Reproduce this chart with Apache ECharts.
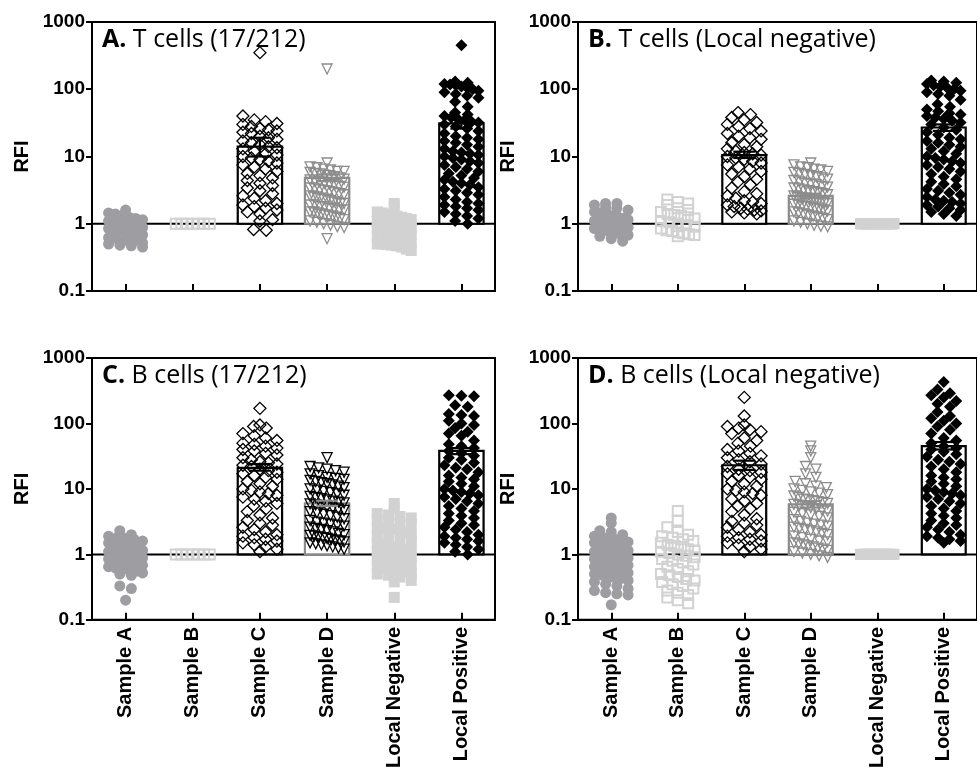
<!DOCTYPE html>
<html><head><meta charset="utf-8">
<script src="https://cdn.jsdelivr.net/npm/echarts@6/dist/echarts.min.js"></script>
<style>html,body{margin:0;padding:0;background:#fff}#c{width:977px;height:771px}</style>
</head><body><div id="c"></div>
<script>
// ---------------- DATA ----------------
const categories = ['Sample A', 'Sample B', 'Sample C', 'Sample D', 'Local Negative', 'Local Positive'];
const yTickValues = [0.1, 1, 10, 100, 1000];
const panelLetters = ['A.', 'B.', 'C.', 'D.'];
const panelTitles = [' T cells (17/212)', ' T cells (Local negative)', ' B cells (17/212)', ' B cells (Local negative)'];
const yAxisName = 'RFI';

// Panel A: T cells (17/212)
const A_sampleA = [1.6,1.45,1.4,1.3,1.25,1.2,1.15,1.1,1.1,1.05,1.0,1.0,0.98,0.95,0.93,0.9,0.9,0.88,0.85,0.82,0.8,0.8,0.78,0.75,0.72,0.7,0.68,0.62,0.6,0.58,0.55,0.52,0.5,0.48,0.47,0.45];
const A_sampleB = [1,1,1,1,1,1,1];
const A_sampleC = [350,40,35,33,31,30,28,26,25,24,23,22,20,19,18,17,16,15,14,13.5,13,12,11,10.5,10,9.5,9,8.5,8,7.5,7,6.5,6,5.6,5.2,4.8,4.4,4,3.7,3.4,3.1,2.8,2.6,2.4,2.2,2.0,1.9,1.8,1.7,1.6,1.5,1.4,1.15,1.1,0.82,0.8];
const A_sampleD = [200,8,7,6.8,6.5,6.3,6,6,5.8,5.6,5.5,5.3,5.2,5,4.8,4.6,4.5,4.3,4.2,4,3.9,3.8,3.6,3.5,3.4,3.3,3.2,3.1,3,2.9,2.8,2.7,2.6,2.5,2.5,2.4,2.3,2.3,2.2,2.1,2.1,2,2,1.9,1.9,1.8,1.8,1.7,1.7,1.6,1.6,1.5,1.5,1.45,1.4,1.35,1.3,1.3,1.25,1.2,1.15,1.1,1.05,1.0,0.95,0.9,0.88,0.6];
const A_localNeg = [2.0,1.8,1.5,1.45,1.4,1.35,1.3,1.25,1.2,1.15,1.1,1.05,1.0,0.98,0.95,0.92,0.9,0.88,0.85,0.82,0.8,0.78,0.75,0.72,0.7,0.68,0.65,0.62,0.6,0.58,0.55,0.53,0.52,0.5,0.5,0.49,0.48,0.47,0.45,0.42,0.4];
const A_localPos = [450,130,125,120,118,115,110,105,100,95,90,85,80,75,65,55,45,42,40,38,36,35,33,32,30,28,26,24,22,20,19,18,17,16,15,14,13,12,11.5,11,10.5,10,9.5,9,8.5,8,7.5,7,6.5,6,5.6,5.2,4.8,4.5,4.2,4,3.8,3.5,3.3,3.1,2.9,2.7,2.5,2.3,2.1,2,1.9,1.8,1.7,1.6,1.5,1.4,1.3,1.2,1.1,1.0];
const A_barMean = [null, null, 14, 4.8, null, 31];
const A_errLow  = [null, null, 10, 4.3, null, 26];
const A_errHigh = [null, null, 19, 5.4, null, 36];

// Panel B: T cells (Local negative)
const B_sampleA = [2.0,2.0,1.9,1.75,1.7,1.6,1.5,1.45,1.4,1.35,1.3,1.25,1.2,1.15,1.1,1.08,1.05,1.02,1.0,0.98,0.95,0.92,0.9,0.88,0.85,0.82,0.8,0.78,0.75,0.72,0.7,0.68,0.65,0.6,0.55];
const B_sampleB = [2.3,2.1,2.0,1.9,1.7,1.6,1.5,1.4,1.35,1.3,1.25,1.2,1.1,1.05,1.0,0.95,0.9,0.85,0.8,0.78,0.75,0.72,0.7,0.68,0.65];
const B_sampleC = [45,42,38,35,32,30,28,26,24,22,20,19,18,16,15,14,13,12,11.5,11,10.5,10,9.5,9,8.5,8,7.5,7,6.5,6,5.5,5,4.6,4.2,3.8,3.4,3.0,2.8,2.6,2.4,2.2,2.1,2.0,1.9,1.8,1.7,1.65,1.6,1.55,1.5,1.45,1.4];
const B_sampleD = [8,7.5,7,6.8,6.5,6.3,6,5.8,5.6,5.4,5.2,5,4.8,4.6,4.4,4.2,4,3.9,3.8,3.6,3.5,3.4,3.3,3.2,3.1,3,2.9,2.8,2.7,2.6,2.5,2.45,2.4,2.35,2.3,2.25,2.2,2.15,2.1,2.05,2,1.95,1.9,1.85,1.8,1.75,1.7,1.65,1.6,1.55,1.5,1.45,1.4,1.35,1.3,1.25,1.2,1.15,1.1,1.05,1.0,0.95,0.92,0.9];
const B_localNeg = [1,1,1,1,1,1,1,1,1,1,1,1,1,1,1,1,1,1,1,1,1,1,1,1,1,1,1,1,1,1];
const B_localPos = [135,130,125,120,115,110,105,100,95,90,85,80,70,60,55,50,47,44,42,40,38,36,34,32,30,27,25,23,21,19,18,17,16,15,14,13,12,11,10,9.5,9,8.5,8,7.5,7,6.5,6,5.5,5,4.6,4.2,3.9,3.6,3.3,3.1,2.9,2.7,2.5,2.3,2.2,2.1,2,1.9,1.8,1.7,1.6,1.5,1.4,1.3];
const B_barMean = [null, null, 10.5, 2.6, null, 27];
const B_errLow  = [null, null, 9.5, 2.4, null, 24];
const B_errHigh = [null, null, 11.8, 2.8, null, 30];

// Panel C: B cells (17/212)
const C_sampleA = [2.3,2.0,1.9,1.8,1.75,1.7,1.6,1.5,1.45,1.4,1.35,1.3,1.25,1.2,1.15,1.1,1.05,1.0,0.98,0.95,0.92,0.9,0.88,0.85,0.82,0.8,0.78,0.75,0.72,0.7,0.68,0.65,0.62,0.6,0.58,0.55,0.52,0.5,0.48,0.33,0.3,0.2];
const C_sampleB = [1,1,1,1,1,1,1];
const C_sampleC = [170,95,90,85,70,65,60,55,50,48,45,42,40,38,35,33,30,28,26,25,24,23,22,20,19,18,17,16,15,14,13,12,11,10,9.5,9,8.5,8,7.5,7,6.5,6,5.5,5,4.5,4,3.6,3.3,3.0,2.8,2.6,2.4,2.2,2.0,1.9,1.8,1.7,1.6,1.5,1.4,1.3,1.2,1.1];
const C_sampleD = [30,22,21,20,19,18,17,16,15,14.5,14,13.5,13,12.5,12,11.5,11,10.5,10,9.6,9.2,8.8,8.4,8,7.7,7.4,7.1,6.8,6.5,6.3,6.1,5.9,5.7,5.5,5.3,5.1,4.9,4.7,4.5,4.3,4.1,3.9,3.7,3.5,3.3,3.1,3.0,2.9,2.8,2.7,2.6,2.5,2.4,2.3,2.2,2.1,2.0,1.95,1.9,1.85,1.8,1.75,1.7,1.65,1.6,1.55,1.5,1.45,1.4,1.35,1.3,1.25,1.2];
const C_localNeg = [6,5,4.2,4,3.8,3.6,3.4,3.2,3.0,2.8,2.6,2.5,2.4,2.2,2.0,1.9,1.8,1.7,1.6,1.5,1.4,1.3,1.2,1.15,1.1,1.05,1.0,0.95,0.9,0.85,0.8,0.75,0.7,0.68,0.65,0.62,0.6,0.58,0.55,0.52,0.5,0.48,0.45,0.4,0.38,0.22];
const C_localPos = [270,265,260,190,180,140,135,130,110,100,95,85,75,70,65,55,48,45,42,38,35,32,30,28,25,23,21,20,18,16,15,14,13,12,11,10,9.5,9,8.5,8,7.5,7,6.5,6,5.5,5,4.6,4.2,3.9,3.6,3.3,3.0,2.8,2.6,2.4,2.2,2.0,1.9,1.8,1.7,1.6,1.5,1.4,1.3,1.2,1.1,1.0];
const C_barMean = [null, null, 21, 6, null, 38];
const C_errLow  = [null, null, 19, 5.5, null, 34];
const C_errHigh = [null, null, 24, 6.6, null, 42];

// Panel D: B cells (Local negative)
const D_sampleA = [3.6,3.0,2.3,2.2,2.0,1.9,1.85,1.8,1.7,1.6,1.55,1.5,1.45,1.4,1.35,1.3,1.25,1.2,1.15,1.1,1.05,1.0,0.98,0.95,0.92,0.9,0.88,0.85,0.82,0.8,0.78,0.75,0.72,0.7,0.68,0.65,0.62,0.6,0.58,0.55,0.52,0.5,0.48,0.45,0.42,0.4,0.38,0.35,0.33,0.3,0.28,0.26,0.25,0.24,0.17];
const D_sampleB = [4.6,3.3,2.6,2.2,2.0,1.9,1.8,1.7,1.6,1.5,1.4,1.35,1.3,1.2,1.15,1.1,1.05,1.0,0.95,0.9,0.85,0.8,0.75,0.7,0.65,0.6,0.55,0.5,0.48,0.45,0.42,0.4,0.38,0.35,0.33,0.3,0.28,0.26,0.24,0.22,0.2,0.18];
const D_sampleC = [250,130,95,90,85,80,75,70,60,55,50,45,40,38,35,32,30,28,26,24,22,20,19,18,17,16,15,14,13,12,11,10,9.5,9,8.5,8,7,6.5,6,5.5,5,4.5,4,3.5,3.2,3.0,2.8,2.6,2.4,2.2,2.0,1.9,1.8,1.7,1.6,1.5,1.4,1.3,1.2,1.1];
const D_sampleD = [45,38,30,22,20,17,15,13,12,11,10.5,10,9.5,9,8.6,8.2,7.8,7.4,7,6.8,6.6,6.4,6.2,6,5.8,5.6,5.4,5.2,5,4.8,4.6,4.4,4.2,4,3.8,3.6,3.4,3.2,3.0,2.9,2.8,2.7,2.6,2.5,2.4,2.3,2.2,2.1,2.0,1.9,1.8,1.7,1.6,1.55,1.5,1.45,1.4,1.35,1.3,1.25,1.2,1.15,1.1,1.05,1.0,0.95,0.9];
const D_localNeg = [1,1,1,1,1,1,1,1,1,1,1,1,1,1,1,1,1,1,1,1,1,1,1,1,1,1,1,1,1,1];
const D_localPos = [430,330,290,270,250,220,200,180,150,130,120,110,100,90,80,70,60,55,50,45,42,40,37,34,31,28,26,24,22,20,18,16,15,14,13,12,11,10,9.5,9,8.5,8,7.5,7,6.5,6,5.5,5,4.6,4.2,3.9,3.6,3.3,3.0,2.8,2.6,2.4,2.2,2.0,1.9,1.8,1.7,1.6,1.5];
const D_barMean = [null, null, 23, 5.8, null, 45];
const D_errLow  = [null, null, 19.5, 5.2, null, 40];
const D_errHigh = [null, null, 27, 6.5, null, 52];

const panelGroups = [
  [A_sampleA, A_sampleB, A_sampleC, A_sampleD, A_localNeg, A_localPos],
  [B_sampleA, B_sampleB, B_sampleC, B_sampleD, B_localNeg, B_localPos],
  [C_sampleA, C_sampleB, C_sampleC, C_sampleD, C_localNeg, C_localPos],
  [D_sampleA, D_sampleB, D_sampleC, D_sampleD, D_localNeg, D_localPos]
];
const panelBars = [[A_barMean, A_errLow, A_errHigh], [B_barMean, B_errLow, B_errHigh], [C_barMean, C_errLow, C_errHigh], [D_barMean, D_errLow, D_errHigh]];

// ---------------- LAYOUT / STYLE ----------------
const grids = [
  {left: 92, top: 22, width: 403, height: 269},
  {left: 578, top: 22, width: 403, height: 269},
  {left: 92, top: 358, width: 403, height: 268},
  {left: 578, top: 358, width: 403, height: 268}
];
const GRAY = '#9e9ea2', LIGHT = '#d2d2d2', MID = '#8c8c8c';
function markerStyle(p, g) {
  const triColor = p === 2 ? '#000' : MID;
  return [
    {symbol: 'circle', size: 11, rotate: 0, item: {color: GRAY, borderWidth: 0}},
    {symbol: 'rect', size: 10, rotate: 0, item: {color: 'rgba(0,0,0,0)', borderColor: LIGHT, borderWidth: 2}},
    {symbol: 'diamond', size: 12, rotate: 0, item: {color: 'rgba(0,0,0,0)', borderColor: '#000', borderWidth: 1.3}},
    {symbol: 'triangle', size: 10, rotate: 180, item: {color: 'rgba(0,0,0,0)', borderColor: triColor, borderWidth: 1.3}},
    {symbol: 'rect', size: 11, rotate: 0, item: {color: LIGHT, borderWidth: 0}},
    {symbol: 'diamond', size: 12, rotate: 0, item: {color: '#000', borderWidth: 0}}
  ][g];
}
const barColors = ['#000', '#000', '#000', MID, '#000', '#000'];

// deterministic row-based scatter layout (like a column scatter plot)
function swarm(values, pxPerDecade, bandPx, binPx, maxHalfPx, sym) {
  const bins = new Map();
  values.forEach(v => {
    const b = Math.round(Math.log10(v) * pxPerDecade / binPx);
    if (!bins.has(b)) bins.set(b, []);
    bins.get(b).push(v);
  });
  const out = [];
  bins.forEach(arr => {
    const n = arr.length;
    const sp = n > 1 ? Math.min(sym * 1.05, 2 * maxHalfPx / (n - 1)) : 0;
    arr.forEach((v, k) => out.push([(k - (n - 1) / 2) * sp / bandPx, v]));
  });
  return out;
}

const xAxes = [], yAxes = [], series = [], titles = [];
const labelFont = 'Liberation Sans, Arial, sans-serif';
const titleFont = 'Open Sans, sans-serif';
grids.forEach((gr, p) => {
  const bottom = p >= 2;
  xAxes.push({
    type: 'category', gridIndex: p, data: categories, boundaryGap: true,
    axisLine: {onZero: false, lineStyle: {color: '#000', width: 2}},
    axisTick: {show: true, inside: true, length: 7, alignWithLabel: true, lineStyle: {color: '#000', width: 2}},
    axisLabel: {show: bottom, rotate: 90, margin: 7, color: '#000', fontSize: 20, fontWeight: 'bold', fontFamily: labelFont, interval: 0},
    splitLine: {show: false}
  });
  xAxes.push({type: 'value', gridIndex: p, min: -0.5, max: 5.5, show: false});
  yAxes.push({
    type: 'log', gridIndex: p, logBase: 10, min: yTickValues[0], max: yTickValues[yTickValues.length - 1], splitNumber: 4,
    name: yAxisName, nameLocation: 'middle', nameGap: 60,
    nameTextStyle: {color: '#000', fontSize: 20, fontWeight: 'bold', fontFamily: labelFont},
    axisLine: {show: true, onZero: false, lineStyle: {color: '#000', width: 2}},
    axisTick: {show: true, length: 6, lineStyle: {color: '#000', width: 2}},
    minorTick: {show: false},
    axisLabel: {color: '#000', fontSize: 19, fontWeight: 'bold', fontFamily: labelFont, margin: 7, showMinLabel: true, showMaxLabel: true,
      formatter: v => String(+v.toPrecision(3))},
    splitLine: {show: false}
  });
  titles.push({
    left: gr.left + 10, top: gr.top + 5, padding: 0,
    text: '{b|' + panelLetters[p] + '}' + panelTitles[p],
    textStyle: {color: '#000', fontSize: 25, fontWeight: 'normal', fontFamily: titleFont,
      rich: {b: {color: '#000', fontSize: 25, fontWeight: 'bold', fontFamily: titleFont}}}
  });
  const catX = 2 * p, valX = 2 * p + 1;
  const pxPerDecade = gr.height / 4;
  const bandPx = gr.width / categories.length;
  const [means, lows, highs] = panelBars[p];

  // baseline at RFI = 1
  series.push({
    type: 'custom', xAxisIndex: valX, yAxisIndex: p, z: 1, silent: true,
    data: [[-0.5, 1, 5.5]],
    renderItem: (params, api) => {
      const a = api.coord([api.value(0), api.value(1)]);
      const b = api.coord([api.value(2), api.value(1)]);
      return {type: 'line', shape: {x1: a[0], y1: a[1], x2: b[0], y2: b[1]}, style: {stroke: '#000', lineWidth: 2}};
    }
  });
  // bars (from 1 up to mean)
  series.push({
    type: 'custom', xAxisIndex: catX, yAxisIndex: p, z: 2, silent: true,
    data: means.map((m, i) => [i, m]).filter(d => d[1] != null),
    renderItem: (params, api) => {
      const i = api.value(0), m = api.value(1);
      const top = api.coord([i, m]);
      const base = api.coord([i, 1]);
      const w = api.size([1, 0])[0] * 0.66;
      return {type: 'rect', shape: {x: top[0] - w / 2, y: top[1], width: w, height: base[1] - top[1]},
        style: {fill: '#fff', stroke: barColors[i], lineWidth: 2.2}};
    }
  });
  // points
  panelGroups[p].forEach((vals, g) => {
    const st = markerStyle(p, g);
    const pts = swarm(vals, pxPerDecade, bandPx, 8, 17, st.size).map(d => [g + d[0], d[1]]);
    series.push({
      type: 'scatter', xAxisIndex: valX, yAxisIndex: p, z: 3, silent: true,
      data: pts, symbol: st.symbol, symbolSize: st.size, symbolRotate: st.rotate,
      itemStyle: Object.assign({opacity: 1}, st.item)
    });
  });
  // error bars
  series.push({
    type: 'custom', xAxisIndex: catX, yAxisIndex: p, z: 4, silent: true,
    data: lows.map((l, i) => [i, l, highs[i]]).filter(d => d[1] != null),
    renderItem: (params, api) => {
      const i = api.value(0);
      const lo = api.coord([i, api.value(1)]);
      const hi = api.coord([i, api.value(2)]);
      const cw = 11;
      const st = {stroke: barColors[i], lineWidth: 2.2};
      return {type: 'group', children: [
        {type: 'line', shape: {x1: lo[0], y1: lo[1], x2: hi[0], y2: hi[1]}, style: st},
        {type: 'line', shape: {x1: lo[0] - cw, y1: lo[1], x2: lo[0] + cw, y2: lo[1]}, style: st},
        {type: 'line', shape: {x1: hi[0] - cw, y1: hi[1], x2: hi[0] + cw, y2: hi[1]}, style: st}
      ]};
    }
  });
});

const chart = echarts.init(document.getElementById('c'), null, {renderer: 'canvas'});
chart.setOption({
  animation: false,
  backgroundColor: '#fff',
  title: titles,
  grid: grids.map(g => Object.assign({show: true, borderColor: '#000', borderWidth: 2, backgroundColor: 'transparent', containLabel: false}, g)),
  xAxis: xAxes,
  yAxis: yAxes,
  series: series
});
</script>
</body></html>
